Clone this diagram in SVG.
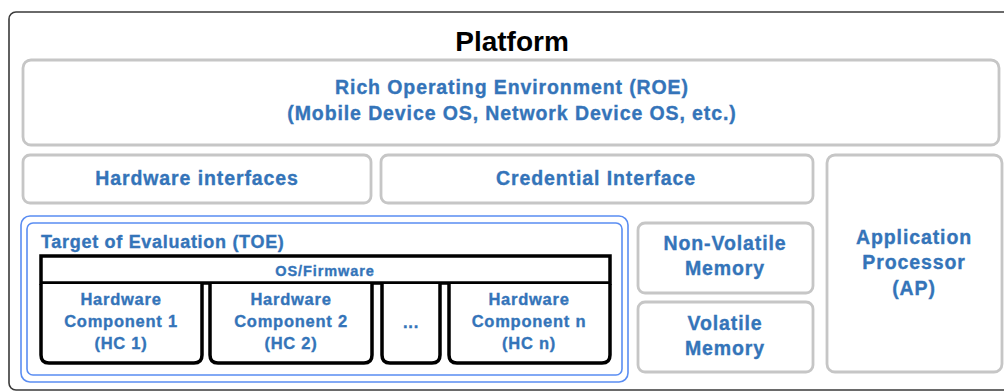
<svg xmlns="http://www.w3.org/2000/svg" width="1004" height="392" viewBox="0 0 1004 392">
<style>
.gbox{fill:#fff;stroke:#c6c6c6;stroke-width:2.8}
.hc{fill:#fff;stroke:#000;stroke-width:3.5}
.bt{font-family:"Liberation Sans",Arial,sans-serif;font-weight:bold;fill:#3474b9;stroke:#3474b9;stroke-width:0.35px;text-anchor:middle}
.l{font-size:19.5px;letter-spacing:0.9px}
.m{font-size:16.5px;letter-spacing:0.75px}
.toe{fill:none;stroke:#5a8df2;stroke-width:1.6}
</style>
<rect width="1004" height="392" fill="#fff"/>
<g id="platform">
<rect x="9" y="12" width="1010" height="378" rx="7" fill="#fff" stroke="#3a3a3a" stroke-width="1.6"/>
<text x="512" y="51" font-family="Liberation Sans,Arial,sans-serif" font-weight="bold" font-size="28" fill="#000" text-anchor="middle">Platform</text>
</g>
<g id="roe">
<rect class="gbox" x="23" y="60" width="976" height="85" rx="8"/>
<text class="bt l" x="512" y="94">Rich Operating Environment (ROE)</text>
<text class="bt l" x="512" y="120">(Mobile Device OS, Network Device OS, etc.)</text>
</g>
<g id="hw-interfaces">
<rect class="gbox" x="23" y="155" width="348" height="48" rx="7"/>
<text class="bt l" x="197" y="185">Hardware interfaces</text>
</g>
<g id="credential-interface">
<rect class="gbox" x="381" y="155" width="432" height="48" rx="7"/>
<text class="bt l" x="596" y="185">Credential Interface</text>
</g>
<g id="ap">
<rect class="gbox" x="827" y="155" width="175" height="217" rx="8"/>
<text class="bt l" x="914" y="244">Application</text>
<text class="bt l" x="914" y="269">Processor</text>
<text class="bt l" x="914" y="295">(AP)</text>
</g>
<g id="nvm">
<rect class="gbox" x="638" y="223" width="175" height="70" rx="7"/>
<text class="bt l" x="725" y="250">Non-Volatile</text>
<text class="bt l" x="725" y="275">Memory</text>
</g>
<g id="vm">
<rect class="gbox" x="638" y="302" width="175" height="70" rx="7"/>
<text class="bt l" x="725" y="330">Volatile</text>
<text class="bt l" x="725" y="355">Memory</text>
</g>
<g id="toe">
<rect class="toe" x="21" y="216" width="607" height="166" rx="9"/>
<rect class="toe" x="27" y="223" width="595" height="152" rx="6"/>
<text class="bt" x="41" y="248" font-size="18" letter-spacing="0.7" style="text-anchor:start">Target of Evaluation (TOE)</text>
</g>
<g id="os-firmware">
<rect class="hc" x="41" y="256" width="569" height="27"/>
<text class="bt" x="325" y="276" font-size="14.5" letter-spacing="0.9">OS/Firmware</text>
</g>
<g id="hc1">
<path class="hc" d="M41 284 V355 Q41 363 49 363 H194 Q202 363 202 355 V284"/>
<text class="bt m" x="121" y="305">Hardware</text>
<text class="bt m" x="121" y="327">Component 1</text>
<text class="bt m" x="121" y="349">(HC 1)</text>
</g>
<g id="hc2">
<path class="hc" d="M210 284 V355 Q210 363 218 363 H364 Q372 363 372 355 V284"/>
<text class="bt m" x="291" y="305">Hardware</text>
<text class="bt m" x="291" y="327">Component 2</text>
<text class="bt m" x="291" y="349">(HC 2)</text>
</g>
<g id="hc-dots">
<path class="hc" d="M382 284 V355 Q382 363 390 363 H432 Q440 363 440 355 V284"/>
<text class="bt m" x="411" y="328">...</text>
</g>
<g id="hcn">
<path class="hc" d="M449 284 V355 Q449 363 457 363 H602 Q610 363 610 355 V284"/>
<text class="bt m" x="529" y="305">Hardware</text>
<text class="bt m" x="529" y="327">Component n</text>
<text class="bt m" x="529" y="349">(HC n)</text>
</g>
<g id="connectors"/>
</svg>
